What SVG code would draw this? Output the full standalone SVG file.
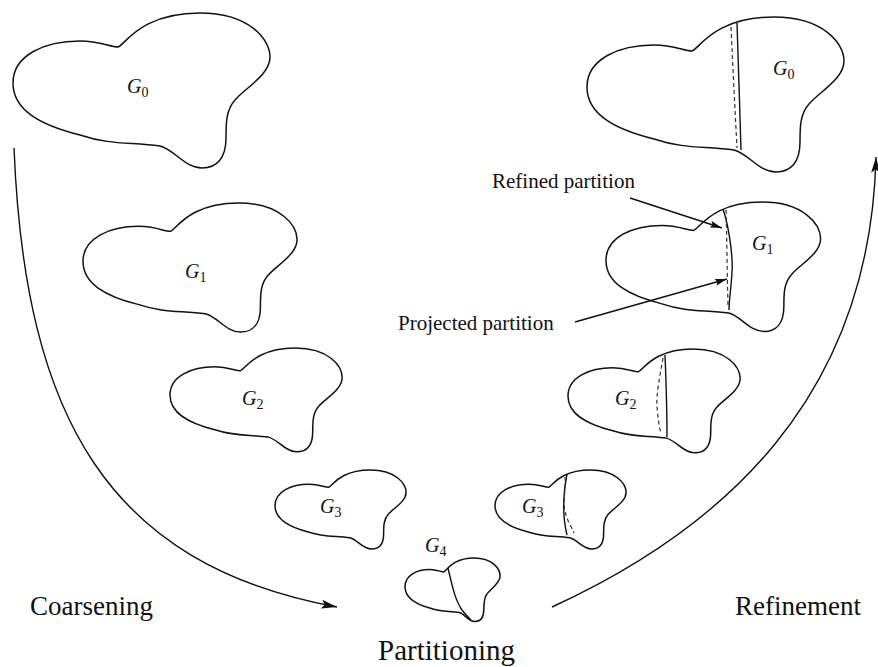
<svg xmlns="http://www.w3.org/2000/svg" width="878" height="667" viewBox="0 0 878 667">
<style>
.blob{fill:none;stroke:#111;stroke-width:1.5;}
.cut{fill:none;stroke:#111;stroke-width:1.4;}
.dash{fill:none;stroke:#333;stroke-width:1.2;stroke-dasharray:4 3;}
.arrow{fill:none;stroke:#111;stroke-width:1.4;}
.lbl{font-family:"Liberation Serif","Times New Roman",serif;font-style:italic;font-size:20px;fill:#111;}
.sub{font-style:normal;font-size:14px;}
.big{font-family:"Liberation Serif","Times New Roman",serif;font-size:27px;fill:#111;}
.part{font-family:"Liberation Serif","Times New Roman",serif;font-size:29px;fill:#111;}
.small{font-family:"Liberation Serif","Times New Roman",serif;font-size:21px;fill:#111;}
</style>
<defs>
<path id="shape" vector-effect="non-scaling-stroke" d="M 0,70 C 0,42 32,28 67,28 C 87,28 97,34 105,34 C 112,32 127,0 187,0 C 237,0 257,27 257,44 C 257,62 232,75 222,87 C 213,97 213,110 213,125 C 213,145 204,155 189,155 C 172,155 162,137 147,133 C 117,129 97,132 67,122 C 27,112 0,97 0,70 Z"/>
<marker id="ah" viewBox="0 0 14 8" refX="14" refY="4" markerWidth="16" markerHeight="9" markerUnits="userSpaceOnUse" orient="auto">
<path d="M0,0 L14,4 L0,8 L3,4 Z" fill="#111"/>
</marker>
<marker id="ahs" viewBox="0 0 12 7" refX="12" refY="3.5" markerWidth="12" markerHeight="7" markerUnits="userSpaceOnUse" orient="auto">
<path d="M0,0 L12,3.5 L0,7 L2,3.5 Z" fill="#111"/>
</marker>
</defs>

<g id="G0-left">
<use href="#shape" class="blob" transform="translate(13,13)"/>
<text class="lbl" x="127" y="93">G<tspan class="sub" dy="4">0</tspan></text>
</g>
<g id="G1-left">
<use href="#shape" class="blob" transform="translate(83,203) scale(0.833)"/>
<text class="lbl" x="185" y="278">G<tspan class="sub" dy="4">1</tspan></text>
</g>
<g id="G2-left">
<use href="#shape" class="blob" transform="translate(170,348) scale(0.67)"/>
<text class="lbl" x="242" y="405">G<tspan class="sub" dy="4">2</tspan></text>
</g>
<g id="G3-left">
<use href="#shape" class="blob" transform="translate(275,470) scale(0.51)"/>
<text class="lbl" x="320" y="513">G<tspan class="sub" dy="4">3</tspan></text>
</g>
<g id="G4">
<use href="#shape" class="blob" transform="translate(405,558) scale(0.37,0.41)"/>
<path class="cut" d="M 448,568 C 452,585 455,600 462,610 C 465,614 468,617 471,620"/>
<text class="lbl" x="425" y="552">G<tspan class="sub" dy="4">4</tspan></text>
</g>
<g id="G3-right">
<use href="#shape" class="blob" transform="translate(495,470) scale(0.51)"/>
<path class="cut" d="M 567,474 C 563,495 562,515 567,535"/>
<path class="dash" d="M 565,477 C 566,490 562,505 566,515 C 568,522 572,528 574,533"/>
<text class="lbl" x="522" y="513">G<tspan class="sub" dy="4">3</tspan></text>
</g>
<g id="G2-right">
<use href="#shape" class="blob" transform="translate(568,349) scale(0.67)"/>
<path class="cut" d="M 665,355 C 666,380 667,410 667,437"/>
<path class="dash" d="M 663,358 C 660,375 656,395 657,407 C 658,418 659,426 661,434"/>
<text class="lbl" x="615" y="405">G<tspan class="sub" dy="4">2</tspan></text>
</g>
<g id="G1-right">
<use href="#shape" class="blob" transform="translate(606,202) scale(0.835)"/>
<path class="cut" d="M 723,209 C 730,230 733,260 732,272 C 731,290 729,300 729,310"/>
<path class="dash" d="M 726,210 C 727,240 727,270 728,305"/>
<text class="lbl" x="752" y="250">G<tspan class="sub" dy="4">1</tspan></text>
</g>
<g id="G0-right">
<use href="#shape" class="blob" transform="translate(587,17)"/>
<path class="cut" d="M 737,23 C 738,60 740,110 741,150"/>
<path class="dash" d="M 731,27 C 733,70 735,110 737,148"/>
<text class="lbl" x="773" y="75">G<tspan class="sub" dy="4">0</tspan></text>
</g>

<g id="connectors">
<path class="arrow" d="M 14,148 C 25,420 110,565 337,607" marker-end="url(#ah)"/>
<path class="arrow" d="M 552,607 C 720,530 870,400 876,157" marker-end="url(#ah)"/>
<path class="arrow" d="M 630,198 L 722,228" marker-end="url(#ahs)"/>
<path class="arrow" d="M 575,322 L 727,279" marker-end="url(#ahs)"/>
</g>

<g id="labels">
<text class="big" x="30" y="615">Coarsening</text>
<text class="big" x="735" y="615">Refinement</text>
<text class="part" x="378" y="660">Partitioning</text>
<text class="small" x="492" y="188">Refined partition</text>
<text class="small" x="398" y="330">Projected partition</text>
</g>
</svg>
